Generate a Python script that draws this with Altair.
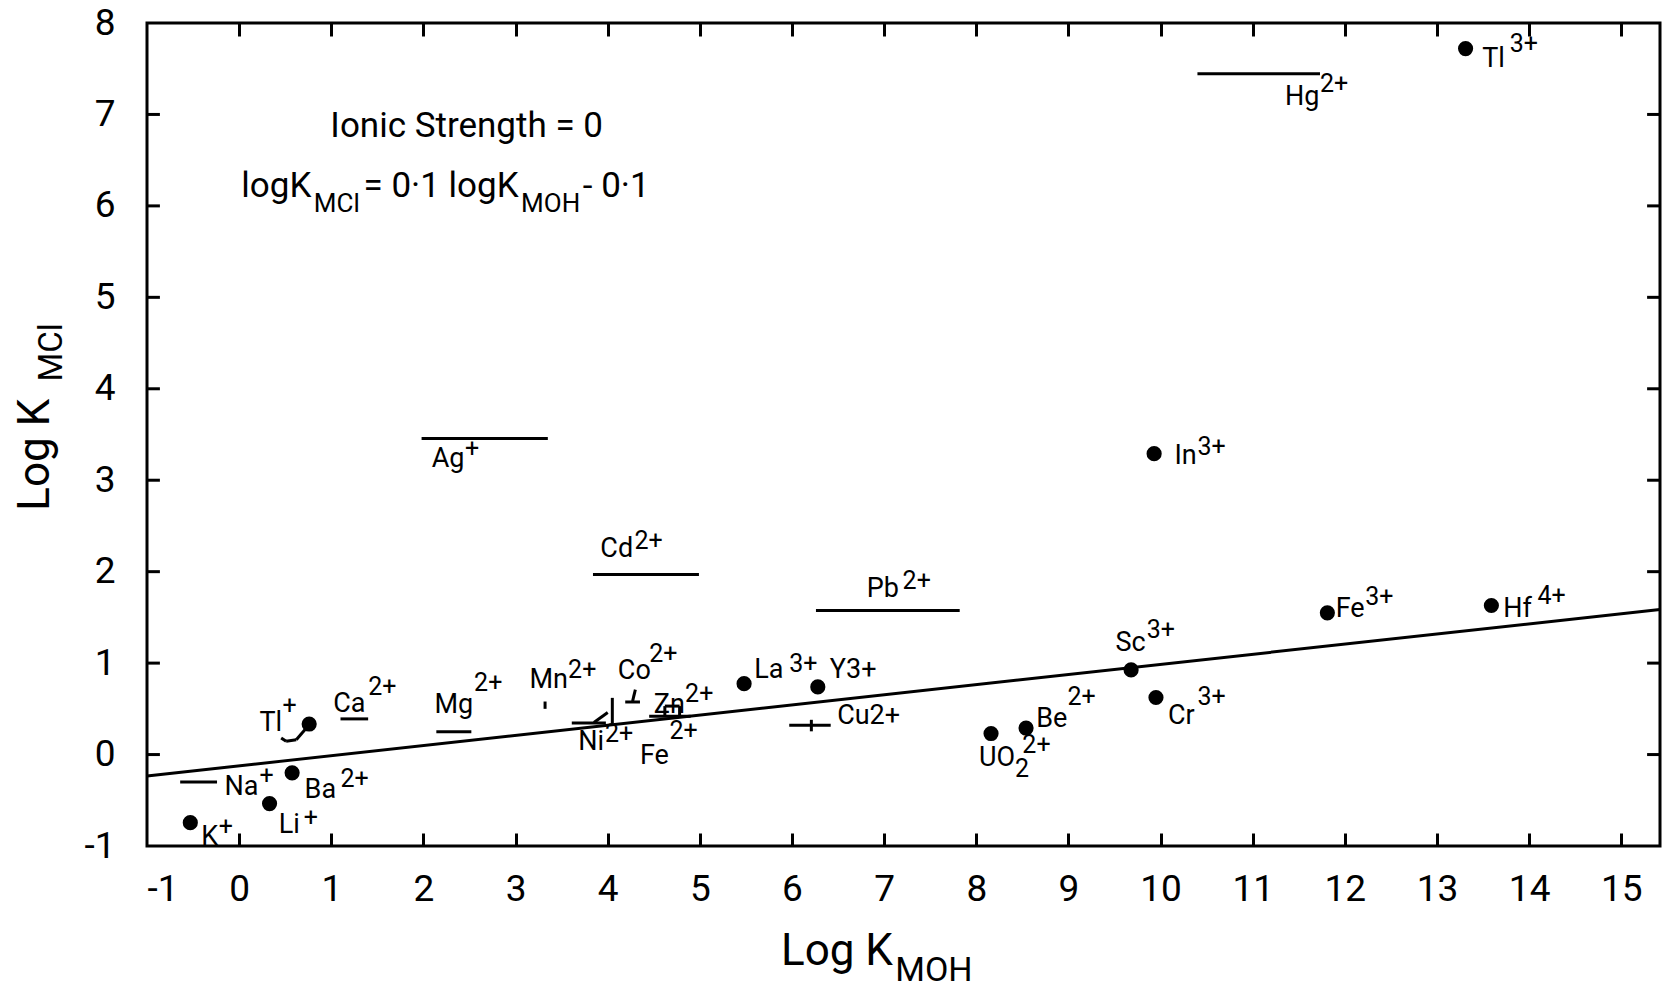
import altair as alt
import pandas as pd

FONT = "Roboto, Liberation Sans, sans-serif"

# ---------------- data ----------------
# filled circles
pt_ion = ["K+", "Li+", "Ba2+", "Tl+", "La3+", "Y3+", "UO2 2+", "Be2+", "Sc3+",
          "Cr3+", "In3+", "Fe3+", "Hf4+", "Tl3+"]
pt_x = [-0.53, 0.33, 0.575, 0.76, 5.48, 6.28, 8.16, 8.54, 9.68, 9.95, 9.93, 11.81, 13.59, 13.31]
pt_y = [-0.745, -0.536, -0.20, 0.334, 0.775, 0.74, 0.23, 0.29, 0.926, 0.624, 3.29, 1.55, 1.63, 7.72]

# range bars and small marks (start / end points)
seg_ion = ["Na+", "Ca2+", "Mg2+", "Ag+", "Cd2+", "Pb2+", "Hg2+", "Cu2+", "Cu2+",
           "Ni2+", "Ni2+", "Ni2+", "Co2+", "Co2+", "Mn2+",
           "Zn2+", "Zn2+", "Zn2+", "Zn2+", "Tl+", "Tl+", "Tl+"]
seg_x1 = [-0.64, 1.10, 2.14, 1.98, 3.84, 6.26, 10.40, 5.97, 6.21,
          3.61, 4.05, 3.85, 4.19, 4.27, 3.32,
          4.45, 4.62, 4.78, 4.62, 0.456, 0.51, 0.62]
seg_x2 = [-0.24, 1.40, 2.52, 3.35, 4.99, 7.82, 11.73, 6.42, 6.21,
          3.98, 4.05, 4.00, 4.35, 4.30, 3.32,
          4.90, 4.62, 4.78, 4.78, 0.51, 0.62, 0.76]
seg_y1 = [-0.30, 0.39, 0.25, 3.455, 1.97, 1.575, 7.445, 0.32, 0.254,
          0.345, 0.345, 0.35, 0.575, 0.585, 0.50,
          0.42, 0.42, 0.42, 0.53, 0.182, 0.145, 0.163]
seg_y2 = [-0.30, 0.39, 0.25, 3.455, 1.97, 1.575, 7.445, 0.32, 0.38,
          0.345, 0.62, 0.46, 0.575, 0.71, 0.58,
          0.42, 0.53, 0.53, 0.53, 0.145, 0.163, 0.327]

# drawn correlation line (end points)
fit_x = [-1.0, 15.42]
fit_y = [-0.234, 1.587]

# ion labels: main part
base_text = ["K", "Li", "Na", "Ba", "Tl", "Ca", "Mg", "Mn", "Co", "Zn", "Ni", "Fe", "La",
             "Y3+", "Cu2+", "Pb", "Cd", "Ag", "Hg", "Tl", "In", "Sc", "Cr", "Be", "UO", "Fe", "Hf"]
base_x = [-0.41, 0.43, -0.16, 0.71, 0.22, 1.02, 2.12, 3.15, 4.11, 4.50, 3.68, 4.35, 5.59,
          6.41, 6.49, 6.81, 3.92, 2.09, 11.35, 13.49, 10.15, 9.51, 10.08, 8.65, 8.03, 11.90, 13.72]
base_y = [-0.907, -0.77, -0.35, -0.385, 0.346, 0.555, 0.543, 0.81, 0.914, 0.543, 0.137, -0.014, 0.926,
          0.926, 0.427, 1.807, 2.25, 3.23, 7.19, 7.61, 3.27, 1.216, 0.427, 0.392, -0.043, 1.587, 1.587]

# ion labels: charges (superscripts)
sup_text = ["+", "+", "+", "2+", "+", "2+", "2+", "2+", "2+", "2+", "2+", "2+", "3+",
            "2+", "2+", "+", "2+", "3+", "3+", "3+", "3+", "2+", "2+", "3+", "4+"]
sup_x = [-0.22, 0.70, 0.22, 1.10, 0.47, 1.40, 2.55, 3.57, 4.45, 4.84, 3.97, 4.67, 5.97,
         7.20, 4.29, 2.45, 11.73, 13.79, 10.40, 9.85, 10.40, 8.99, 8.50, 12.22, 14.09]
sup_y = [-0.79, -0.69, -0.234, -0.27, 0.53, 0.74, 0.787, 0.926, 1.10, 0.66, 0.23, 0.253, 0.995,
         1.90, 2.34, 3.34, 7.33, 7.77, 3.36, 1.366, 0.624, 0.624, 0.10, 1.726, 1.738]

# subscripts inside ion labels
isub_text = ["2"]
isub_x = [8.42]
isub_y = [-0.16]

# annotation (ionic strength and equation)
note_text = ["Ionic Strength = 0", "logK", "= 0·1 logK", "- 0·1"]
note_x = [0.99, 0.023, 1.35, 3.73]
note_y = [6.87, 6.216, 6.216, 6.216]
nsub_text = ["MCl", "MOH"]
nsub_x = [0.81, 3.06]
nsub_y = [6.02, 6.02]

# axis titles
xt_text, xt_x, xt_y = ["Log K"], [5.88], [-2.16]
xts_text, xts_x, xts_y = ["MOH"], [7.12], [-2.37]
yt_text, yt_x, yt_y = ["Log K"], [-2.20], [2.666]
yts_text, yts_x, yts_y = ["MCl"], [-2.03], [4.08]

x_ticks = list(range(-1, 16))
y_ticks = list(range(-1, 9))
x_inner = [float(v) for v in range(0, 16)]
y_inner = [float(v) for v in range(0, 8)]
XD = [-1.0, 15.42]
YD = [-1.0, 8.0]

W, H = 1513, 823   # plot area in pixels
TL = 0.14          # inward tick length in axis units
TPX = 13           # inward tick length in pixels

# ---------------- chart ----------------
xs = alt.Scale(domain=XD, nice=False, zero=False)
ys = alt.Scale(domain=YD, nice=False, zero=False)
XA = alt.Axis(values=x_ticks, title=None, labelExpr="toString(datum.value)",
              labelPadding=43, labelBaseline="middle", domain=False, ticks=False,
              grid=False, labelFont=FONT, labelFontSize=37, labelColor="black")
YA = alt.Axis(values=y_ticks, title=None, labelExpr="toString(datum.value)",
              labelPadding=32, domain=False, ticks=False, grid=False,
              labelFont=FONT, labelFontSize=37, labelColor="black")
# tick-only axes moved onto the opposite edge so that their ticks point inward
TOP_IN = alt.Axis(orient="bottom", offset=-H, values=x_inner, labels=False, ticks=True,
                  tickSize=TPX, tickWidth=3, tickColor="black", domain=False, grid=False,
                  title=None)
BOT_IN = alt.Axis(orient="top", offset=-H, values=x_inner, labels=False, ticks=True,
                  tickSize=TPX, tickWidth=3, tickColor="black", domain=False, grid=False,
                  title=None)

def Xn(f="x"):
    return alt.X(f + ":Q", scale=xs, axis=None)

def Y(f="y"):
    return alt.Y(f + ":Q", scale=ys, axis=YA)

pts = pd.DataFrame({"ion": pt_ion, "x": pt_x, "y": pt_y})
segs = pd.DataFrame({"ion": seg_ion, "x": seg_x1, "x2": seg_x2, "y": seg_y1, "y2": seg_y2})
fit = pd.DataFrame({"x": fit_x, "y": fit_y})
xt_df = pd.DataFrame({"x": x_inner, "y": [YD[0]] * len(x_inner)})

# inward ticks on left and right edges
ht = pd.concat([
    pd.DataFrame({"y": y_inner, "x": [XD[0]] * len(y_inner), "x2": [XD[0] + TL] * len(y_inner)}),
    pd.DataFrame({"y": y_inner, "x": [XD[1]] * len(y_inner), "x2": [XD[1] - TL] * len(y_inner)}),
], ignore_index=True)

def txt_df(t, x, y):
    return pd.DataFrame({"t": t, "x": x, "y": y})

def text_layer(df, size, angle=0):
    m = alt.Chart(df).mark_text(font=FONT, fontSize=size, align="left", baseline="middle",
                                color="black", angle=angle)
    return m.encode(x=Xn(), y=Y(), text="t:N")

points = alt.Chart(pts).mark_circle(size=230, color="black", opacity=1).encode(
    x=alt.X("x:Q", scale=xs, axis=XA), y=Y())

bars = alt.Chart(segs).mark_rule(color="black", strokeWidth=3).encode(
    x=Xn(), x2="x2:Q", y=Y(), y2="y2:Q")

hticks = alt.Chart(ht).mark_rule(color="black", strokeWidth=3).encode(
    y=Y(), x=Xn(), x2="x2:Q")

top_ax = alt.Chart(xt_df).mark_point(opacity=0).encode(
    x=alt.X("x:Q", scale=xs, axis=TOP_IN), y=Y())
bot_ax = alt.Chart(xt_df).mark_point(opacity=0).encode(
    x=alt.X("x:Q", scale=xs, axis=BOT_IN), y=Y())

line = alt.Chart(fit).mark_line(color="black", strokeWidth=3).encode(x=Xn(), y=Y())

labels = [text_layer(txt_df(base_text, base_x, base_y), 27),
          text_layer(txt_df(sup_text, sup_x, sup_y), 25),
          text_layer(txt_df(isub_text, isub_x, isub_y), 25),
          text_layer(txt_df(note_text, note_x, note_y), 35),
          text_layer(txt_df(nsub_text, nsub_x, nsub_y), 26),
          text_layer(txt_df(xt_text, xt_x, xt_y), 44),
          text_layer(txt_df(xts_text, xts_x, xts_y), 34),
          text_layer(txt_df(yt_text, yt_x, yt_y), 44, angle=270),
          text_layer(txt_df(yts_text, yts_x, yts_y), 33, angle=270)]

chart = alt.layer(points, line, bars, hticks, top_ax, bot_ax, *labels).resolve_axis(
    x="independent"
).properties(
    width=W, height=H,
    padding={"left": 147, "top": 23, "right": 3, "bottom": 144},
    autosize=alt.AutoSizeParams(type="none"),
    background="white",
).configure_view(stroke="black", strokeWidth=3)

chart.save("out.html", embed_options={"renderer": "svg", "actions": False})
